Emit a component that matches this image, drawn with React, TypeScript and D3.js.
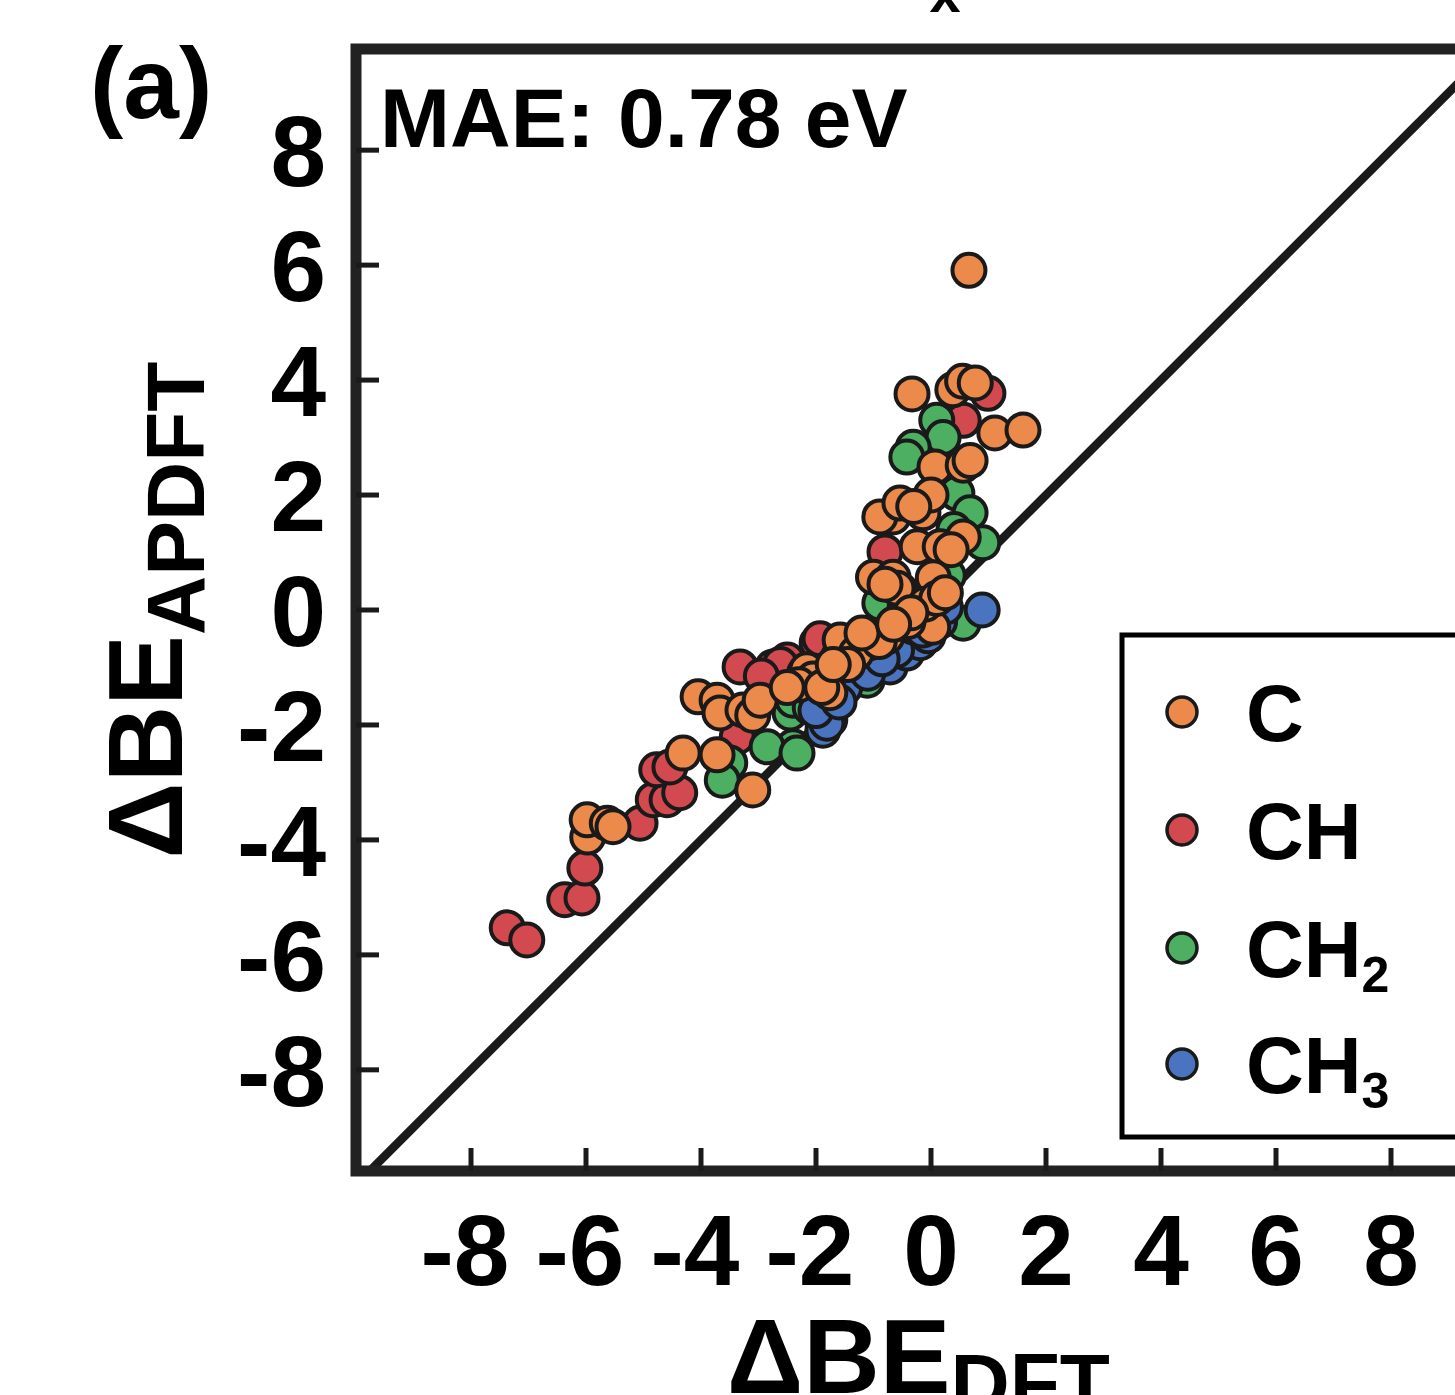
import React from "react";
import * as d3 from "d3";

type Pt = [number, number];

const categories = ["C", "CH", "CH2", "CH3"];
const colors = ["#EC8A4B", "#D24A50", "#4DAF62", "#4A74C0"];

const seriesC: Pt[] = [
  [0.66, 5.91], [-0.33, 3.76], [0.38, 3.83], [0.55, 3.98], [0.77, 3.95],
  [1.11, 3.08], [1.6, 3.13], [0.07, 2.49], [0.56, 2.52], [0.68, 2.6],
  [-0.66, 1.62], [-0.14, 1.69], [-0.89, 1.62], [0.0, 2.0], [-0.54, 1.86],
  [-0.3, 1.8], [0.56, 1.27], [-0.24, 1.1], [0.16, 1.1], [0.35, 1.05],
  [-1.0, 0.57], [-0.54, 0.35], [0.04, 0.56], [-0.66, 0.57], [-0.59, 0.38],
  [-0.8, 0.45], [-0.14, -0.17], [-0.24, -0.1], [0.03, -0.3], [-0.71, -0.35],
  [-0.77, -0.47], [-1.06, -0.57], [-1.0, -0.52], [-1.58, -0.52], [-2.16, -1.04],
  [-1.76, -1.44], [-2.05, -1.2], [-0.4, -0.2], [-0.1, 0.1], [0.1, 0.2],
  [-4.05, -1.51], [-3.72, -1.57], [-3.67, -1.79], [-3.27, -1.74], [-3.1, -1.83],
  [-2.97, -1.57], [-4.31, -2.49], [-3.72, -2.52], [-3.1, -3.13], [-5.97, -3.95],
  [-5.98, -3.65], [-5.63, -3.71], [-5.53, -3.77], [-1.3, -0.75], [-0.9, -0.55],
  [-0.35, -0.05], [0.25, 0.3], [-1.2, -0.4], [-2.3, -1.3], [-1.9, -1.35],
  [-1.45, -0.95], [-0.65, -0.25], [-1.7, -0.95], [-2.5, -1.35],
];

const seriesCH: Pt[] = [
  [0.99, 3.77], [0.56, 3.3], [-0.8, 1.01], [-1.98, -0.57], [-1.93, -0.5],
  [-7.37, -5.53], [-7.03, -5.74], [-6.37, -5.04], [-6.07, -5.01], [-6.02, -4.49],
  [-5.06, -3.71], [-4.83, -3.3], [-4.59, -3.3], [-4.37, -3.18], [-4.77, -2.78],
  [-4.54, -2.73], [-3.37, -2.21], [-3.32, -0.99], [-2.75, -0.99], [-2.5, -0.87],
  [-2.62, -0.95], [-2.95, -1.15], [-1.6, -0.8], [-0.5, -0.05], [0.2, 0.4],
  [-2.2, -1.1], [-1.2, -0.6], [0.0, 0.2], [-1.45, -0.7], [-0.75, -0.3],
];

const seriesCH2: Pt[] = [
  [0.1, 3.3], [0.21, 3.0], [-0.31, 2.83], [-0.42, 2.66], [0.45, 2.03],
  [0.68, 1.69], [0.9, 1.17], [0.56, -0.23], [-0.89, 0.12], [-2.4, -1.62],
  [-2.4, -2.38], [-2.85, -2.38], [-1.11, -1.22], [-3.5, -2.66], [-3.63, -2.96],
  [-2.45, -1.79], [-2.4, -1.57], [-2.33, -2.49], [-0.6, -0.55], [-1.4, -1.1],
  [0.3, 0.6], [-0.2, -0.35], [-0.45, 0.05], [0.4, 1.4], [-1.9, -1.55],
  [-1.6, -1.3], [-0.8, -0.75], [0.05, -0.1], [-0.3, -0.5], [-1.25, -0.95],
  [-0.9, -0.9], [-2.1, -1.7], [-0.1, -0.25],
];

const seriesCH3: Pt[] = [
  [0.89, 0.0], [-1.29, -0.99], [-1.76, -1.91], [-1.88, -2.09], [-0.71, -0.99],
  [-0.42, -0.75], [-0.19, -0.57], [-1.81, -1.97], [-1.0, -0.85], [-0.05, -0.45],
  [0.15, -0.2], [-1.5, -1.35], [-2.0, -1.75], [-1.1, -1.1], [-0.6, -0.7],
  [-0.3, -0.3], [-1.6, -1.6], [-0.85, -0.85], [-0.15, -0.35], [0.25, 0.05],
];

const xTicks = [-8, -6, -4, -2, 0, 2, 4, 6, 8];
const yTicks = [-8, -6, -4, -2, 0, 2, 4, 6, 8];
const diagonal: Pt[] = [[-10, -10], [10, 10]];

const FONT = "'Liberation Sans', Arial, sans-serif";

export default function App() {
  const x = d3.scaleLinear().domain([-10, 10]).range([356, 1506]);
  const y = d3.scaleLinear().domain([-9.76, 9.76]).range([1171, 49]);
  const line = d3.line<Pt>().x((d) => x(d[0])).y((d) => y(d[1]));

  const left = x(-10);
  const right = x(10);
  const top = y(9.76);
  const bottom = y(-9.76);

  // draw order: CH, CH2, CH3, C
  const drawOrder = [1, 2, 3, 0];
  const allSeries = [seriesC, seriesCH, seriesCH2, seriesCH3];

  const legendY = [712, 830, 948, 1064];
  const labelMain = ["C", "CH", "CH", "CH"];
  const labelSub = ["", "", "2", "3"];

  return (
    <svg
      width={1455}
      height={1395}
      style={{ position: "absolute", left: 0, top: 0, background: "#fff" }}
      fontFamily={FONT}
      fontWeight="bold"
    >
      <rect x={0} y={0} width={1455} height={1395} fill="#fff" />
      <defs>
        <clipPath id="plotClip">
          <rect x={left} y={top} width={right - left} height={bottom - top} />
        </clipPath>
      </defs>

      {/* title fragment at top edge (cut off as in the reference) */}
      <text x={945} y={12} fontSize={56} textAnchor="middle" fill="#000">
        x
      </text>

      {/* panel label */}
      <text x={90} y={118} fontSize={100} fill="#000">
        (a)
      </text>

      {/* diagonal */}
      <g clipPath="url(#plotClip)">
        <path d={line(diagonal) || ""} stroke="#1a1a1a" strokeWidth={8.5} fill="none" />
      </g>

      {/* points */}
      <g clipPath="url(#plotClip)">
        {drawOrder.map((si) =>
          allSeries[si].map((d, i) => (
            <circle
              key={`${si}-${i}`}
              cx={x(d[0])}
              cy={y(d[1])}
              r={16.5}
              fill={colors[si]}
              stroke="#1a1a1a"
              strokeWidth={4}
            />
          ))
        )}
      </g>

      {/* frame */}
      <rect
        x={left}
        y={top}
        width={right - left}
        height={bottom - top}
        fill="none"
        stroke="#222"
        strokeWidth={11}
      />

      {/* y ticks */}
      {yTicks.map((t) => (
        <g key={`yt${t}`}>
          <line x1={left} x2={left + 23} y1={y(t)} y2={y(t)} stroke="#1a1a1a" strokeWidth={5} />
          <text x={326} y={y(t) + 36} fontSize={100} textAnchor="end" fill="#000">
            {t}
          </text>
        </g>
      ))}

      {/* x ticks */}
      {xTicks.map((t) => (
        <g key={`xt${t}`}>
          <line x1={x(t)} x2={x(t)} y1={bottom} y2={bottom - 23} stroke="#1a1a1a" strokeWidth={5} />
          <text x={x(t) - (t < 0 ? 6 : 0)} y={1285} fontSize={100} textAnchor="middle" fill="#000">
            {t}
          </text>
        </g>
      ))}

      {/* MAE annotation */}
      <text x={380} y={147} fontSize={84} fill="#000">
        MAE: 0.78 eV
      </text>

      {/* y axis title */}
      <text
        transform="translate(182,610) rotate(-90)"
        textAnchor="middle"
        fontSize={106}
        fill="#000"
      >
        ΔBE
        <tspan fontSize={82} dy={22}>
          APDFT
        </tspan>
      </text>

      {/* x axis title */}
      <text x={727} y={1393} fontSize={106} fill="#000">
        ΔBE
        <tspan fontSize={82} dy={18}>
          DFT
        </tspan>
      </text>

      {/* legend */}
      <rect x={1122} y={635} width={420} height={502} fill="#fff" stroke="#000" strokeWidth={5} />
      {categories.map((c, i) => (
        <g key={c}>
          <circle cx={1182} cy={legendY[i]} r={15} fill={colors[i]} stroke="#1a1a1a" strokeWidth={3.5} />
          <text x={1246} y={legendY[i] + 29} fontSize={80} fill="#000">
            {labelMain[i]}
            {labelSub[i] ? (
              <tspan fontSize={50} dy={15}>
                {labelSub[i]}
              </tspan>
            ) : null}
          </text>
        </g>
      ))}
    </svg>
  );
}
